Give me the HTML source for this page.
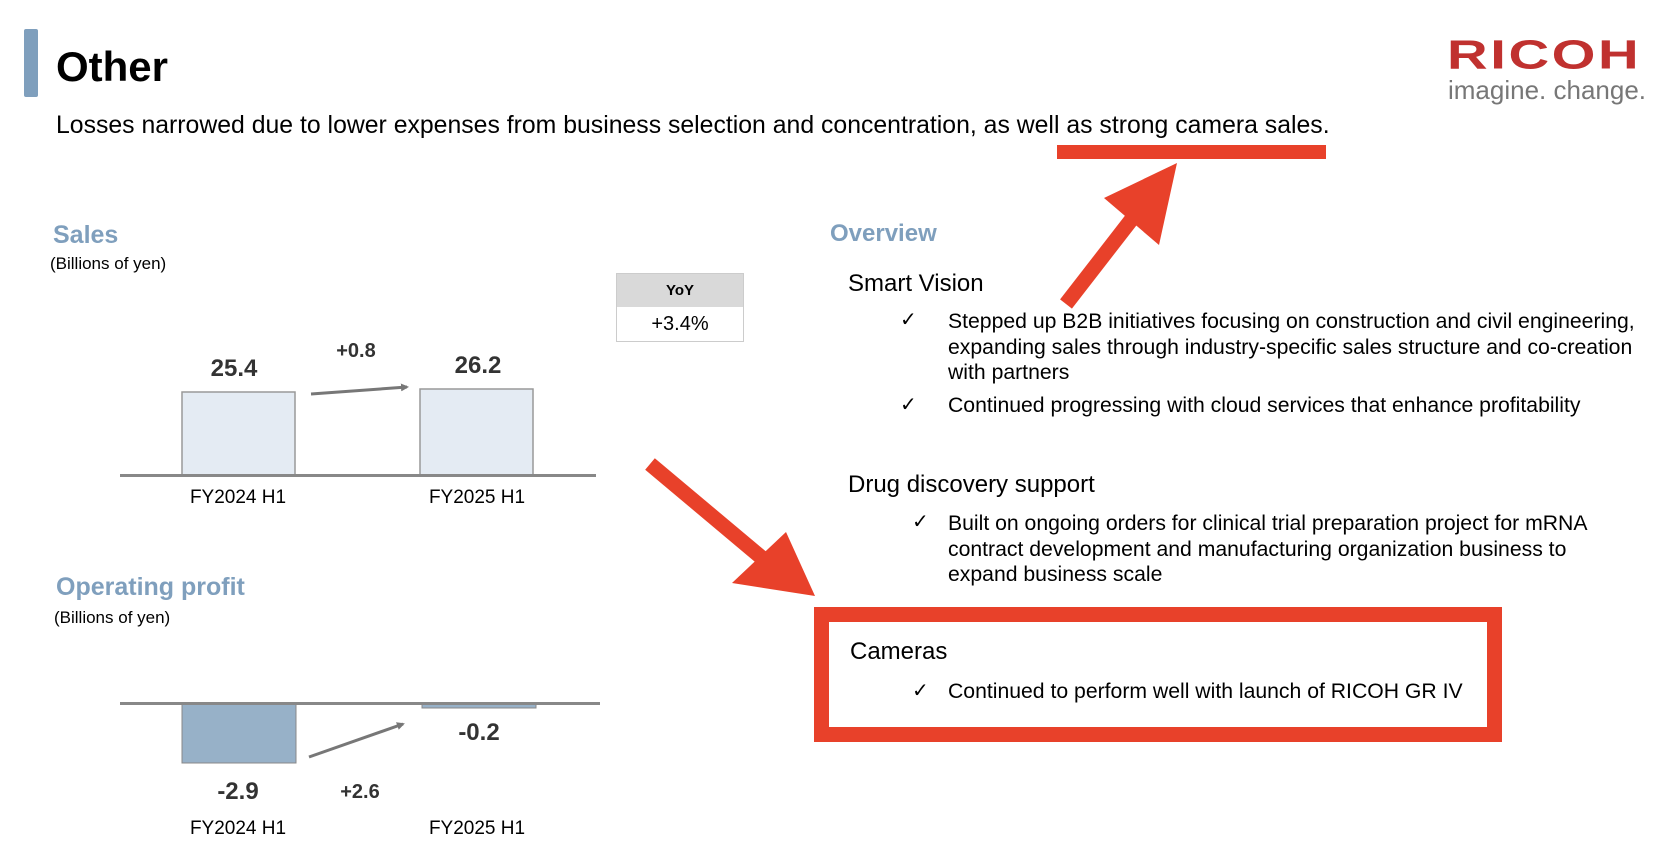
<!DOCTYPE html>
<html><head><meta charset="utf-8"><style>
body{margin:0;width:1672px;height:862px;background:#fff;position:relative;overflow:hidden;font-family:"Liberation Sans",sans-serif;}
.t{position:absolute;white-space:nowrap;line-height:1;}
</style></head><body>
<div style="position:absolute;left:24px;top:29px;width:14px;height:68px;background:#7f9fbd;border-radius:2px"></div>
<div class="t" style="left:56px;top:46px;font-size:42px;font-weight:bold;color:#000">Other</div>
<div class="t" style="left:56px;top:114px;font-size:24.8px;color:#000">Losses narrowed due to lower expenses from business selection and concentration, as well as strong camera sales.</div>
<div class="t" style="left:1447px;top:35px;font-size:44px;font-weight:bold;color:#c0312f;letter-spacing:2px;transform:scale(1.28,0.93);transform-origin:top left">RICOH</div>
<div class="t" style="left:1448px;top:77px;font-size:26px;color:#777">imagine. change.</div>

<div class="t" style="left:53px;top:223px;font-size:25px;font-weight:bold;color:#7f9fbd">Sales</div>
<div class="t" style="left:50px;top:255px;font-size:17px;color:#000">(Billions of yen)</div>
<div style="position:absolute;left:616px;top:273px;width:128px;height:69px;border:1px solid #ccc;box-sizing:border-box">
<div style="height:33px;background:#d9d9d9;text-align:center;font-size:15px;font-weight:bold;line-height:33px">YoY</div>
<div style="text-align:center;font-size:20px;line-height:34px">+3.4%</div></div>

<div class="t" style="left:56px;top:575px;font-size:25px;font-weight:bold;color:#7f9fbd">Operating profit</div>
<div class="t" style="left:54px;top:609px;font-size:17px;color:#000">(Billions of yen)</div>

<svg width="1672" height="862" style="position:absolute;left:0;top:0">
<defs><marker id="g" markerWidth="8" markerHeight="8" refX="6" refY="4" orient="auto" markerUnits="userSpaceOnUse"><path d="M0,0 L8,4 L0,8 z" fill="#777"/></marker></defs>
<rect x="182" y="392" width="113" height="83" fill="#e4ebf3" stroke="#999" stroke-width="1.5"/>
<rect x="420" y="389" width="113" height="86" fill="#e4ebf3" stroke="#999" stroke-width="1.5"/>
<line x1="120" y1="475.5" x2="596" y2="475.5" stroke="#888" stroke-width="3"/>
<line x1="311" y1="394" x2="407" y2="387" stroke="#777" stroke-width="3" marker-end="url(#g)"/>
<rect x="182" y="704" width="114" height="59" fill="#97b1c8" stroke="#888" stroke-width="1"/>
<rect x="422" y="704" width="114" height="4" fill="#97b1c8" stroke="#888" stroke-width="1"/>
<line x1="120" y1="703.5" x2="600" y2="703.5" stroke="#888" stroke-width="3"/>
<line x1="309" y1="757" x2="403" y2="724" stroke="#777" stroke-width="3" marker-end="url(#g)"/>
<g font-family="Liberation Sans,sans-serif" text-anchor="middle">
<text x="234" y="376" font-size="24" font-weight="bold" fill="#333">25.4</text>
<text x="478" y="373" font-size="24" font-weight="bold" fill="#333">26.2</text>
<text x="356" y="357" font-size="20" font-weight="bold" fill="#333">+0.8</text>
<text x="238" y="503" font-size="19" fill="#000">FY2024 H1</text>
<text x="477" y="503" font-size="19" fill="#000">FY2025 H1</text>
<text x="238" y="799" font-size="24" font-weight="bold" fill="#333">-2.9</text>
<text x="360" y="798" font-size="20" font-weight="bold" fill="#333">+2.6</text>
<text x="479" y="740" font-size="24" font-weight="bold" fill="#333">-0.2</text>
<text x="238" y="834" font-size="19" fill="#000">FY2024 H1</text>
<text x="477" y="834" font-size="19" fill="#000">FY2025 H1</text>
</g>
<rect x="1057" y="145" width="269" height="14" fill="#e8412a"/>
<line x1="1066" y1="304" x2="1135" y2="215" stroke="#e8412a" stroke-width="15"/>
<polygon points="1177,163 1104,198 1159,245" fill="#e8412a"/>
<line x1="650" y1="464" x2="768" y2="563" stroke="#e8412a" stroke-width="15"/>
<polygon points="815,596 732,583 786,532" fill="#e8412a"/>
<rect x="821.5" y="614.5" width="673" height="120" fill="none" stroke="#e8412a" stroke-width="15"/>
</svg>

<div class="t" style="left:830px;top:222px;font-size:24px;font-weight:bold;color:#7f9fbd">Overview</div>
<div class="t" style="left:848px;top:272px;font-size:24px">Smart Vision</div>
<div class="t" style="left:900px;top:310px;font-size:20px">✓</div>
<div style="position:absolute;left:948px;top:309px;font-size:21.2px;line-height:25.5px;width:720px">Stepped up B2B initiatives focusing on construction and civil engineering,<br>expanding sales through industry-specific sales structure and co-creation<br>with partners</div>
<div class="t" style="left:900px;top:395px;font-size:20px">✓</div>
<div class="t" style="left:948px;top:395px;font-size:21.2px">Continued progressing with cloud services that enhance profitability</div>
<div class="t" style="left:848px;top:473px;font-size:24px">Drug discovery support</div>
<div class="t" style="left:912px;top:512px;font-size:20px">✓</div>
<div style="position:absolute;left:948px;top:511px;font-size:21.2px;line-height:25.5px;width:720px">Built on ongoing orders for clinical trial preparation project for mRNA<br>contract development and manufacturing organization business to<br>expand business scale</div>
<div class="t" style="left:850px;top:640px;font-size:24px">Cameras</div>
<div class="t" style="left:912px;top:681px;font-size:20px">✓</div>
<div class="t" style="left:948px;top:681px;font-size:21.2px">Continued to perform well with launch of RICOH GR IV</div>
</body></html>
